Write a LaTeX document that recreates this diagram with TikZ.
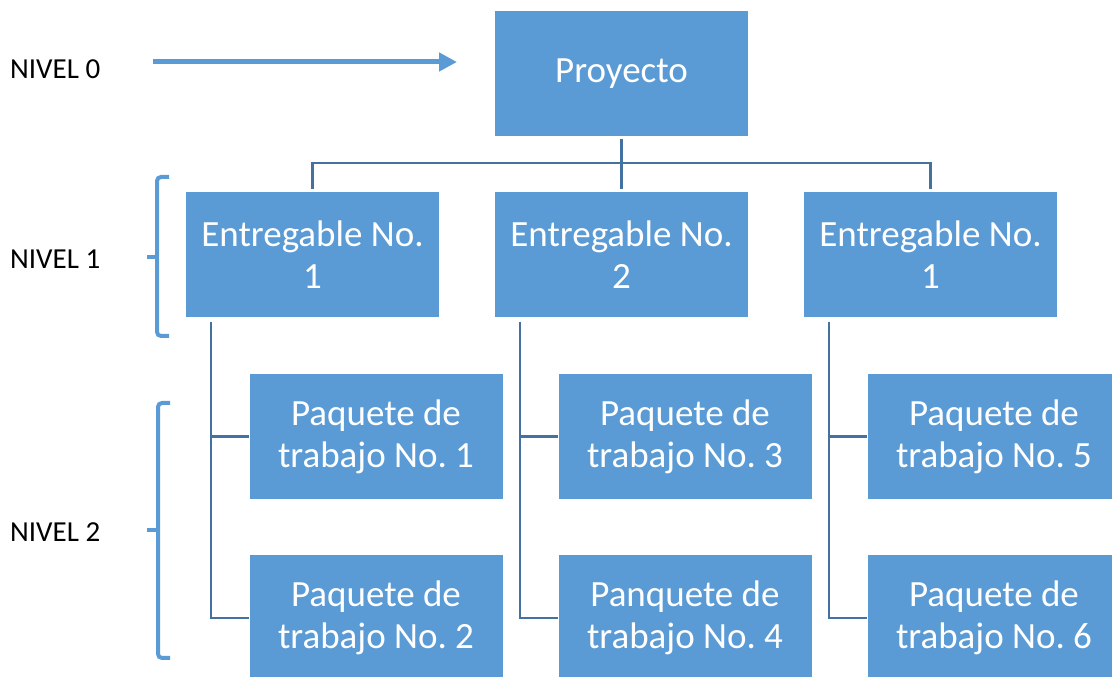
\documentclass[tikz,border=0pt]{standalone}
\usepackage{fontspec}
\setmainfont{Carlito}
\frenchspacing
\usetikzlibrary{arrows.meta}
\definecolor{azul}{RGB}{91,155,213}
\definecolor{azuloscuro}{RGB}{68,114,160}
\tikzstyle{caja} = [rectangle, minimum width=253pt, minimum height=125pt, text centered, align=center, fill=azul, text=white, inner sep=0pt, font=\fontsize{37}{42}\selectfont]
\tikzstyle{nivel} = [anchor=west, inner sep=0pt, font=\fontsize{29}{34}\selectfont]
\tikzstyle{arrow} = [azul, line width=5pt, -{Triangle[length=18pt,width=18pt]}]
\tikzstyle{conn} = [azuloscuro, line width=2.5pt]
\tikzstyle{llave} = [azul, line width=4pt, rounded corners=4pt]

\begin{document}
\begin{tikzpicture}[x=1pt, y=1pt, node distance=181.5pt]
\useasboundingbox (0,0) rectangle (1112,677);
\clip (0,0) rectangle (1112,677);

%% level labels
\node (niv0) [nivel] at (10,608) {NIVEL 0};
\node (niv1) [nivel] at (10,418) {NIVEL 1};
\node (niv2) [nivel] at (10,145) {NIVEL 2};

%% project, deliverables, work packages
\node (pro)  [caja] at (621.5,603.5) {Proyecto};
\node (ent2) [caja, below of=pro] {Entregable No.\\2};
\node (ent1) [caja, left of=ent2, xshift=-127.5pt] {Entregable No.\\1};
\node (ent3) [caja, right of=ent2, xshift=127.5pt] {Entregable No.\\1};
\node (paq1) [caja, below of=ent1, xshift=63.5pt] {Paquete de\\trabajo No. 1};
\node (paq2) [caja, below of=paq1] {Paquete de\\trabajo No. 2};
\node (paq3) [caja, below of=ent2, xshift=63.5pt] {Paquete de\\trabajo No. 3};
\node (paq4) [caja, below of=paq3] {Panquete de\\trabajo No. 4};
\node (paq5) [caja, below of=ent3, xshift=63.5pt] {Paquete de\\trabajo No. 5};
\node (paq6) [caja, below of=paq5] {Paquete de\\trabajo No. 6};

%% arrow to level 0
\coordinate (flechaA) at (153,615);
\coordinate (flechaB) at (457,615);
\draw [arrow] (flechaA) -- (flechaB);

%% Draw the connectivity.
\coordinate (bus) at ([yshift=-27pt]pro.south);
\draw [conn] ([yshift=-3pt]pro.south) -- ([yshift=3pt]ent2.north);
\draw [conn] ([yshift=3pt]ent1.north) |- (bus) -| ([yshift=3pt]ent3.north);
\draw [conn] ([xshift=25pt, yshift=-4pt]ent1.south west) |- (paq2.west);
\draw [conn] (paq1.west) -- ++(-38.5pt,0);
\draw [conn] ([xshift=25pt, yshift=-4pt]ent2.south west) |- (paq4.west);
\draw [conn] (paq3.west) -- ++(-38.5pt,0);
\draw [conn] ([xshift=25pt, yshift=-4pt]ent3.south west) |- (paq6.west);
\draw [conn] (paq5.west) -- ++(-38.5pt,0);

%% braces
\draw [llave] (169,500) -- (157,500) -- (157,341) -- (169,341);
\draw [llave] (157,420) -- (147,420);
\draw [llave] (170,274) -- (158,274) -- (158,19) -- (170,19);
\draw [llave] (158,147) -- (147,147);
\end{tikzpicture}
\end{document}
